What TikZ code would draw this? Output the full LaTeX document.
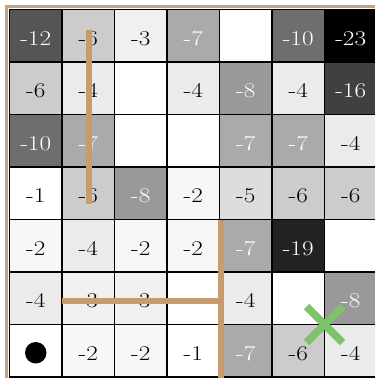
\documentclass[tikz,border=0pt]{standalone}
\usetikzlibrary{calc}
\definecolor{v0}{RGB}{255,255,255}
\definecolor{v1}{RGB}{255,255,255}
\definecolor{v2}{RGB}{247,247,247}
\definecolor{v3}{RGB}{240,240,240}
\definecolor{v4}{RGB}{235,235,235}
\definecolor{v5}{RGB}{221,221,221}
\definecolor{v6}{RGB}{204,204,204}
\definecolor{v7}{RGB}{170,170,170}
\definecolor{v8}{RGB}{153,153,153}
\definecolor{v10}{RGB}{110,110,110}
\definecolor{v12}{RGB}{85,85,85}
\definecolor{v16}{RGB}{64,64,64}
\definecolor{v19}{RGB}{34,34,34}
\definecolor{v23}{RGB}{0,0,0}
\definecolor{tanwall}{RGB}{200,155,110}
\definecolor{tanframe}{RGB}{200,160,122}
\definecolor{xgreen}{RGB}{124,195,106}
\tikzset{
  cell/.style={draw=black, line width=1.3pt, minimum size=52.5pt, inner sep=0pt, outer sep=0pt},
  numtext/.style={inner sep=0pt, yshift=-2.5pt, font=\fontsize{21}{21}\selectfont},
  wall/.style={draw=tanwall, line width=6pt, line cap=butt},
  frame/.style={draw=tanframe, line width=3pt},
  xmark/.style={draw=xgreen, line width=7.5pt, line cap=butt},
}
\begin{document}
\begin{tikzpicture}[x=1pt,y=-1pt]
\useasboundingbox (0,0) rectangle (375,378);
\clip (0,0) rectangle (375,378);
\fill[white] (0,0) rectangle (375,378);
\coordinate (fa) at (6.5,390);
\coordinate (fb) at (6.5,6);
\coordinate (fc) at (390,6);
\draw[frame] (fa) -- (fb) -- (fc);
\foreach \r/\row in {0/{12,6,3,7,0,10,23},1/{6,4,0,4,8,4,16},2/{10,7,0,0,7,7,4},3/{1,6,8,2,5,6,6},4/{2,4,2,2,7,19,0},5/{4,3,3,0,4,0,8},6/{0,2,2,1,7,6,4}}{
  \foreach \v [count=\c from 0] in \row {
    \ifnum\v>6 \def\tc{white}\else\def\tc{black}\fi
    \ifnum\v=0 \def\lab{}\else\def\lab{-\v}\fi
    \node[cell, fill=v\v] (c-\r-\c) at ({9.5+52.5*(\c+0.5)},{9.5+52.5*(\r+0.5)}) {};
    \node[numtext, text=\tc] (t-\r-\c) at (c-\r-\c.center) {\scalebox{1.2}[1]{\lab}};
  }
}
\node[circle, fill=black, minimum size=21.5pt, inner sep=0pt] (dot) at ($(c-6-0.center)+(0,2)$) {};
\coordinate (w1a) at (88.5,30);
\coordinate (w1b) at (88.5,204);
\coordinate (w2a) at (221.3,219.5);
\coordinate (w2b) at (221.3,382);
\coordinate (w3a) at (62,300.5);
\coordinate (w3b) at (224.3,300.5);
\draw[wall] (w1a) -- (w1b);
\draw[wall] (w2a) -- (w2b);
\draw[wall] (w3a) -- (w3b);
\coordinate (xc) at (c-5-5.south east);
\draw[xmark] ($(xc)+(-18,-18)$) -- ($(xc)+(18,18)$);
\draw[xmark] ($(xc)+(-18,18)$) -- ($(xc)+(18,-18)$);
\end{tikzpicture}
\end{document}
